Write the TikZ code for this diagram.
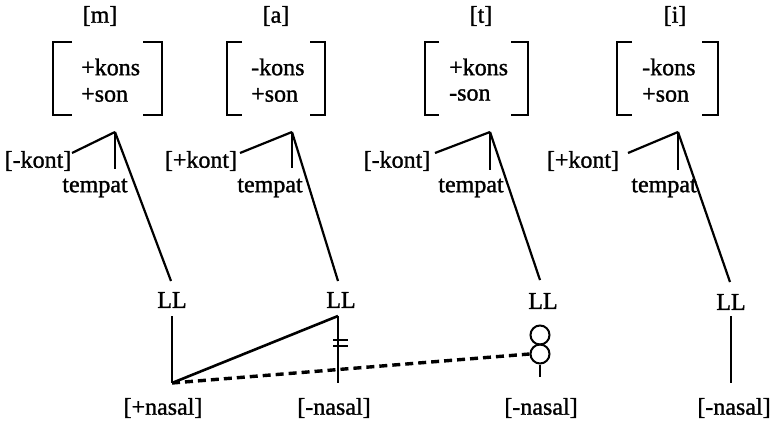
\documentclass[tikz,border=0pt]{standalone}
\usepackage{fontspec}
\setmainfont{Liberation Serif}[AutoFakeBold=1.2]
\begin{document}
\begin{tikzpicture}[x=1pt,y=-1pt,
  lbl/.style={inner sep=0pt, font=\fontsize{24}{28}\selectfont\bfseries},
  ft/.style={lbl, anchor=west},
  ln/.style={line width=2.2pt},
  brk/.style={line width=2.2pt},
  dotline/.style={line width=3.4pt, dash pattern=on 8pt off 5pt}]
\useasboundingbox (0,0) rectangle (773,422);

% ---------- column 1 [m]
\node[lbl] (seg1) at (100,16) {[m]};
\draw[brk] (72,42) -- (53,42) -- (53,115) -- (72,115);
\draw[brk] (143,42) -- (162,42) -- (162,115) -- (143,115);
\node[ft] (k1) at (81,67) {+kons};
\node[ft] (s1) at (81,95) {+son};
\coordinate (ap1) at (115,132);
\node[lbl] (kont1) at (38,161) {[-kont]};
\coordinate (kont1e) at (72,153);
\node[lbl] (temp1) at (95,188) {tempat};
\coordinate (temp1t) at (115,169);
\node[lbl] (LL1) at (172,300) {LL};
\coordinate (LL1t) at (171,281);
\coordinate (LL1b) at (172,316);
\coordinate (c1) at (172,383);
\node[lbl] (nas1) at (163,408) {[+nasal]};
\draw[ln] (ap1) -- (kont1e);
\draw[ln] (ap1) -- (temp1t);
\draw[ln] (ap1) -- (LL1t);
\draw[ln] (LL1b) -- (c1);

% ---------- column 2 [a]
\node[lbl] (seg2) at (276,16) {[a]};
\draw[brk] (242,42) -- (227,42) -- (227,115) -- (242,115);
\draw[brk] (310,42) -- (325,42) -- (325,115) -- (310,115);
\node[ft] (k2) at (251,67) {-kons};
\node[ft] (s2) at (251,95) {+son};
\coordinate (ap2) at (292,132);
\node[lbl] (kont2) at (201,161) {[+kont]};
\coordinate (kont2e) at (240,153);
\node[lbl] (temp2) at (270,188) {tempat};
\coordinate (temp2t) at (292,168);
\node[lbl] (LL2) at (341,300) {LL};
\coordinate (LL2t) at (338,281);
\coordinate (LL2b) at (338,316);
\coordinate (c2) at (338,383);
\node[lbl] (nas2) at (334,408) {[-nasal]};
\draw[ln] (ap2) -- (kont2e);
\draw[ln] (ap2) -- (temp2t);
\draw[ln] (ap2) -- (LL2t);
\draw[ln] (LL2b) -- (c2);
\coordinate (bar1l) at (333,340);
\coordinate (bar1r) at (348,340);
\coordinate (bar2l) at (333,346);
\coordinate (bar2r) at (348,346);
\draw[line width=1.8pt] (bar1l) -- (bar1r);
\draw[line width=1.8pt] (bar2l) -- (bar2r);

% ---------- column 3 [t]
\node[lbl] (seg3) at (481,16) {[t]};
\draw[brk] (439,42) -- (425,42) -- (425,115) -- (439,115);
\draw[brk] (511,42) -- (528,42) -- (528,115) -- (511,115);
\node[ft] (k3) at (449,67) {+kons};
\node[ft] (s3) at (449,95) {-son};
\coordinate (ap3) at (490,132);
\node[lbl] (kont3) at (397,161) {[-kont]};
\coordinate (kont3e) at (435,153);
\node[lbl] (temp3) at (471,188) {tempat};
\coordinate (temp3t) at (490,170);
\node[lbl] (LL3) at (543,301) {LL};
\coordinate (LL3t) at (540,280);
\node[circle, draw, line width=2pt, minimum size=19pt, inner sep=0pt] (o3a) at (540,335) {};
\node[circle, draw, line width=2pt, minimum size=19pt, inner sep=0pt] (o3b) at (540,354) {};
\coordinate (stem3) at (540,377);
\node[lbl] (nas3) at (541,408) {[-nasal]};
\draw[ln] (ap3) -- (kont3e);
\draw[ln] (ap3) -- (temp3t);
\draw[ln] (ap3) -- (LL3t);
\draw[ln] (o3b.south) -- (stem3);

% ---------- column 4 [i]
\node[lbl] (seg4) at (675,16) {[i]};
\draw[brk] (632,42) -- (617,42) -- (617,115) -- (632,115);
\draw[brk] (702,42) -- (718,42) -- (718,115) -- (702,115);
\node[ft] (k4) at (642,67) {-kons};
\node[ft] (s4) at (642,95) {+son};
\coordinate (ap4) at (678,132);
\node[lbl] (kont4) at (583,161) {[+kont]};
\coordinate (kont4e) at (628,153);
\node[lbl] (temp4) at (664,188) {tempat};
\coordinate (temp4t) at (678,170);
\node[lbl] (LL4) at (731,302) {LL};
\coordinate (LL4t) at (730,282);
\coordinate (LL4b) at (731,316);
\coordinate (c4) at (731,383);
\node[lbl] (nas4) at (734,408) {[-nasal]};
\draw[ln] (ap4) -- (kont4e);
\draw[ln] (ap4) -- (temp4t);
\draw[ln] (ap4) -- (LL4t);
\draw[ln] (LL4b) -- (c4);

% ---------- spreading links
\draw[ln, line width=2.6pt] (c1) -- (LL2b);
\draw[dotline] (c1) -- (o3b.west);
\end{tikzpicture}
\end{document}
